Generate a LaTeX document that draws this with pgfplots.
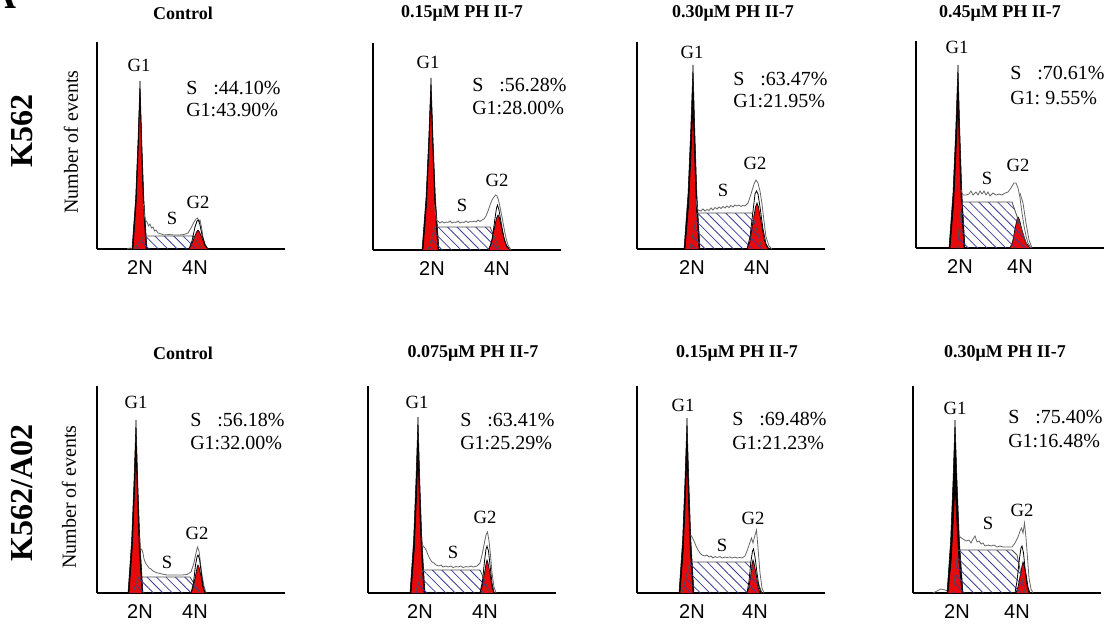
\documentclass[border=0pt]{standalone}
\usepackage{pgfplots}
\pgfplotsset{compat=1.18}
\usepackage{fontspec}
\setmainfont{Liberation Serif}
\newfontfamily\sansf{Liberation Sans}
\usetikzlibrary{patterns.meta}
\definecolor{pkred}{RGB}{232,10,10}
\definecolor{hatchblue}{RGB}{60,60,150}
\newcommand\ttl{\fontsize{13.5}{15}\selectfont\bfseries}
\newcommand\ann{\fontsize{15}{17}\selectfont}
\newcommand\lbl{\fontsize{14}{16}\selectfont}
\newcommand\tickfont{\fontsize{15}{17}\selectfont\sansf}
\def\pxu{0.75pt}
\pgfplotsset{
  panel/.style={scale only axis, width=141pt, height=155.25pt,
    xmin=0, xmax=188, ymin=0, ymax=207,
    axis lines=left, axis line style={-, line width=1.3pt},
    ytick=\empty, xticklabels={2N,4N}, major tick length=0pt,
    xticklabel style={font=\tickfont, yshift=-5pt},
    clip=false, anchor=south west, no markers},
  spike/.style={fill=black, draw=black, line width=0.4pt},
  redpk/.style={fill=pkred, draw=black, line width=0.5pt},
  hatch/.style={draw=black!70, line width=0.6pt, pattern={Lines[angle=-45,distance=5pt,line width=0.6pt]}, pattern color=hatchblue},
  env/.style={draw=black!60, line width=0.6pt},
  g2line/.style={draw=black, line width=0.6pt},
}
\begin{document}
\begin{tikzpicture}
\path[use as bounding box] (0,0) rectangle (1107*\pxu,-628*\pxu);
% ---------------- Panel 1
\begin{axis}[panel, at={(97*\pxu,-249*\pxu)}, xtick={43,98}]
\addplot[env] coordinates {(30,0) (33,1) (35,0)};
\addplot[spike] coordinates {(35,0) (38.6,50) (41,109) (43,168) (44.75,109) (46.85,50) (50,0)};
\addplot[redpk] coordinates {(36,0) (39.2,47) (41.3,102) (43,157) (44.5,102) (46.3,47) (49,0)};
\addplot[redpk] coordinates {(91,0) (94,3) (97,11) (99.5,17) (101,19) (102.5,17) (105,11) (108,3) (111,0)};
\addplot[hatch] coordinates {(37,0) (47,13) (96,13) (105,0)};
\addplot[env] coordinates {(46.5,45) (47.5,33) (48.5,29) (50,27) (51.5,23) (53,25) (54.5,21) (56,22) (57.5,18) (59,19) (61,16) (63,15.5) (67,14) (72,14.5) (77,14) (82,14) (87,14.5) (91,16) (94,21) (97,27) (99,30) (100.5,31) (102,27) (103,29) (104.5,22) (106,12) (108,5) (111,0)};
\addplot[g2line] coordinates {(92,0) (95,8) (98,22) (100,28) (101.5,29) (103,24) (105,14) (108,4) (111,0)};
\node[font=\lbl] at (axis cs:42,184) {G1};
\node[font=\lbl] at (axis cs:75,31) {S};
\node[font=\lbl] at (axis cs:101,47) {G2};
\node[font=\ann, anchor=west, inner sep=0pt] at (axis cs:89,161) {S\hspace{0.8em}:44.10\%};
\node[font=\ann, anchor=west, inner sep=0pt] at (axis cs:89,139) {G1:43.90\%};
\node[font=\ttl] at (axis cs:86,236) {Control};
\node[font=\fontsize{24}{28}\selectfont\bfseries, rotate=90] at (axis cs:-75,118) {K562};
\node[font=\ann, rotate=90] at (axis cs:-26,107) {Number of events};
\node[font=\fontsize{28}{30}\selectfont\bfseries, anchor=base east, inner sep=0pt] at (axis cs:-80,241) {A};
\end{axis}
% ---------------- Panel 2
\begin{axis}[panel, at={(373*\pxu,-250*\pxu)}, xtick={59,124}]
\addplot[spike] coordinates {(49,0) (53,52) (55.75,112) (58,172) (60,112) (62.4,52) (66,0)};
\addplot[redpk] coordinates {(50,0) (53.6,47) (56,103) (58,158) (59.75,103) (61.85,47) (65,0)};
\addplot[redpk] coordinates {(115,0) (118,6) (121,20) (123.5,32) (125,35) (126.5,32) (129,20) (132.5,6) (137,0)};
\addplot[hatch] coordinates {(55,0) (62,23) (117,23) (127,0)};
\addplot[env] coordinates {(61.5,45) (62.5,36) (63.5,30) (65,29) (67,27) (69,28.5) (71,27) (73,28) (75,27.5) (77,29) (79,27) (81,28) (83,27.5) (85,29) (87,27) (89,28) (91,27.5) (93,29) (95,27.5) (97,28.5) (99,28) (101,29) (103,28) (105,30) (107,28.5) (109,30) (111,31) (113,34) (115,39) (117,45) (119,50) (121,53) (122.5,55) (124,54) (125.5,50) (127,43) (129,33) (131,22) (133,12) (135,5) (138,0)};
\addplot[g2line] coordinates {(116,0) (119,10) (121.5,28) (123.5,42) (124.5,45) (126,40) (128,28) (131,12) (134,3) (137,0)};
\node[font=\lbl] at (axis cs:55,188) {G1};
\node[font=\lbl] at (axis cs:89,45) {S};
\node[font=\lbl] at (axis cs:124,70) {G2};
\node[font=\ann, anchor=west, inner sep=0pt] at (axis cs:99,165) {S\hspace{0.8em}:56.28\%};
\node[font=\ann, anchor=west, inner sep=0pt] at (axis cs:99,142) {G1:28.00\%};
\node[font=\ttl] at (axis cs:89,237) {0.15μM PH II-7};
\end{axis}
% ---------------- Panel 3
\begin{axis}[panel, at={(637*\pxu,-249*\pxu)}, xtick={55,120}]
\addplot[spike] coordinates {(47,0) (51,55) (53.75,120) (56,184) (57.75,120) (59.85,55) (63,0)};
\addplot[redpk] coordinates {(48,0) (51.6,44) (54,95) (56,146) (57.5,95) (59.3,44) (62,0)};
\addplot[redpk] coordinates {(110,0) (113,8) (116,28) (118.5,42) (120,46) (121.5,42) (124,28) (127.5,8) (131,0)};
\addplot[hatch] coordinates {(53,0) (60,36) (115,36) (125,0)};
\addplot[env] coordinates {(59,50) (60,42) (61,39) (64,38) (66,40) (68,38) (70,39.5) (72,38.5) (74,41) (76,39) (78,41.5) (80,40) (82,42) (84,40.5) (86,42.5) (88,41) (90,43) (92,41.5) (94,43.5) (96,42) (98,44) (100,43) (102,44) (104,42.5) (106,43.5) (108,43) (111,46) (114,55) (117,65) (119,69) (121,66) (123,58) (125,45) (127,28) (129,12) (132,3) (135,0)};
\addplot[g2line] coordinates {(110,0) (113,12) (116,38) (118,55) (119.5,58) (121,55) (123,42) (126,20) (129,5) (132,0)};
\node[font=\lbl] at (axis cs:55,197) {G1};
\node[font=\lbl] at (axis cs:86,59) {S};
\node[font=\lbl] at (axis cs:118,86) {G2};
\node[font=\ann, anchor=west, inner sep=0pt] at (axis cs:96,170) {S\hspace{0.8em}:63.47\%};
\node[font=\ann, anchor=west, inner sep=0pt] at (axis cs:96,148) {G1:21.95\%};
\node[font=\ttl] at (axis cs:96,236) {0.30μM PH II-7};
\end{axis}
% ---------------- Panel 4
\begin{axis}[panel, at={(916*\pxu,-248*\pxu)}, xtick={44,104}]
\addplot[spike] coordinates {(33,0) (37,55) (39.75,119) (42,183) (43.75,119) (45.85,55) (49,0)};
\addplot[redpk] coordinates {(34,0) (37.6,44) (40,96) (42,148) (43.5,96) (45.3,44) (48,0)};
\addplot[redpk] coordinates {(94,0) (96.5,6) (99,19) (101,29) (102,31) (103.5,28) (106,18) (109.5,6) (114,0)};
\addplot[hatch] coordinates {(41,0) (46,46) (96,46) (112,0)};
\addplot[env] coordinates {(45.3,58) (46,55) (47,53) (50,53) (53,54) (55,57) (57,53) (60,56) (62,53) (64,57) (66,54) (68,57) (70,53) (72,56) (74,52) (77,55) (80,53) (83,54) (86,53) (89,55) (92,56) (95,60) (98,65) (100,65) (102,60) (104,50) (106,35) (108,22) (110,12) (112,5) (115,0)};
\addplot[env] coordinates {(104,55) (107,45) (110,25) (113,8) (116,0)};
\node[font=\lbl] at (axis cs:41,201) {G1};
\node[font=\lbl] at (axis cs:71,70) {S};
\node[font=\lbl] at (axis cs:102,83) {G2};
\node[font=\ann, anchor=west, inner sep=0pt] at (axis cs:94,175) {S\hspace{0.8em}:70.61\%};
\node[font=\ann, anchor=west, inner sep=0pt] at (axis cs:94,150) {G1:\hspace{0.25em}9.55\%};
\node[font=\ttl] at (axis cs:84,235) {0.45μM PH II-7};
\end{axis}
% ---------------- Panel 5
\begin{axis}[panel, at={(97*\pxu,-593*\pxu)}, xtick={43,98}]
\addplot[spike] coordinates {(31,0) (34.6,52) (37,112) (39,173) (40.75,112) (42.85,52) (46,0)};
\addplot[redpk] coordinates {(32,0) (35.2,44) (37.3,95) (39,146) (40.5,95) (42.3,44) (45,0)};
\addplot[redpk] coordinates {(94,0) (96,5) (98.5,17) (100.2,26) (101,28) (102,26) (104,17) (106,5) (108,0)};
\addplot[hatch] coordinates {(36,0) (41,16) (93,16) (103,0)};
\addplot[env] coordinates {(42.8,55) (43.5,45) (45,43) (46,40) (47,34) (48.5,30) (50,28) (52,25) (54,24) (56,22) (58,21) (61,20) (65,19) (70,18) (75,18) (80,18) (85,18) (90,18.5) (94,21) (97,30) (99,40) (100.5,46) (102,42) (103.5,30) (105,18) (107,7) (109,0)};
\addplot[g2line] coordinates {(94,0) (96.5,10) (98.5,28) (100,36) (101,38) (102.5,34) (104,22) (106,8) (108,0)};
\node[font=\lbl] at (axis cs:39,191) {G1};
\node[font=\lbl] at (axis cs:70,31) {S};
\node[font=\lbl] at (axis cs:100,60) {G2};
\node[font=\ann, anchor=west, inner sep=0pt] at (axis cs:93,173) {S\hspace{0.8em}:56.18\%};
\node[font=\ann, anchor=west, inner sep=0pt] at (axis cs:93,150) {G1:32.00\%};
\node[font=\ttl] at (axis cs:86,240) {Control};
\node[font=\fontsize{24}{28}\selectfont\bfseries, rotate=90] at (axis cs:-75,100) {K562/A02};
\node[font=\ann, rotate=90] at (axis cs:-28,96) {Number of events};
\end{axis}
% ---------------- Panel 6
\begin{axis}[panel, at={(368*\pxu,-593*\pxu)}, xtick={52,117}]
\addplot[spike] coordinates {(42,0) (45.6,53) (48,114) (50,176) (51.75,114) (53.85,53) (57,0)};
\addplot[redpk] coordinates {(43,0) (46.2,42) (48.3,91) (50,140) (51.5,91) (53.3,42) (56,0)};
\addplot[redpk] coordinates {(112,0) (114,6) (116.5,20) (118.2,30) (119,33) (120,30) (122,20) (124,6) (126,0)};
\addplot[hatch] coordinates {(47,0) (55,23) (112,23) (122,0)};
\addplot[env] coordinates {(53.8,55) (54.5,48) (56,46) (57,45) (58.5,42) (60,38) (62,34) (64,31) (66,30) (68,28) (71,27) (73,28) (75,26) (78,27) (80,26) (83,27) (85,25.5) (88,26.5) (90,26) (93,27) (95,25.5) (98,26.5) (100,26) (103,27) (105,26) (109,27) (112,30) (114,38) (116,48) (118,58) (119.5,61) (121,52) (122.5,38) (124,20) (126,6) (128,0)};
\addplot[g2line] coordinates {(112,0) (114.5,12) (116.5,32) (118,44) (119,47) (120.5,42) (122,28) (124,10) (126,0)};
\node[font=\lbl] at (axis cs:49,191) {G1};
\node[font=\lbl] at (axis cs:85,41) {S};
\node[font=\lbl] at (axis cs:117,76) {G2};
\node[font=\ann, anchor=west, inner sep=0pt] at (axis cs:92,173) {S\hspace{0.8em}:63.41\%};
\node[font=\ann, anchor=west, inner sep=0pt] at (axis cs:92,150) {G1:25.29\%};
\node[font=\ttl] at (axis cs:105,240) {0.075μM PH II-7};
\end{axis}
% ---------------- Panel 7
\begin{axis}[panel, at={(637*\pxu,-593*\pxu)}, xtick={55,118}]
\addplot[spike] coordinates {(42,0) (45.6,53) (48,114) (50,175) (51.75,114) (53.85,53) (57,0)};
\addplot[redpk] coordinates {(43,0) (46.2,42) (48.3,91) (50,140) (51.5,91) (53.3,42) (56,0)};
\addplot[redpk] coordinates {(110,0) (112,6) (114,20) (115.3,30) (116,33) (117,30) (119,20) (121,6) (123,0)};
\addplot[hatch] coordinates {(45,0) (53,31) (113,31) (125,0)};
\addplot[env] coordinates {(53.8,58) (55,56) (57,52) (59,47) (61,43) (63,40) (65,38) (68,37) (70,38) (72,36) (74,37) (76,35) (78,36.5) (80,35.5) (83,36.5) (85,35) (88,36) (90,35.5) (93,36) (95,35) (98,36) (100,35) (103,35.5) (105,35) (108,37) (110,42) (112,48) (114.5,55) (116,50) (118,58) (119.5,63) (121,45) (123,20) (125,5) (127,0)};
\addplot[g2line] coordinates {(110,0) (112,12) (114,32) (115.5,42) (116.5,44) (118,36) (120,20) (122,6) (124,0)};
\node[font=\lbl] at (axis cs:46,188) {G1};
\node[font=\lbl] at (axis cs:85,48) {S};
\node[font=\lbl] at (axis cs:116,75) {G2};
\node[font=\ann, anchor=west, inner sep=0pt] at (axis cs:95,174) {S\hspace{0.8em}:69.48\%};
\node[font=\ann, anchor=west, inner sep=0pt] at (axis cs:95,150) {G1:21.23\%};
\node[font=\ttl] at (axis cs:100,240) {0.15μM PH II-7};
\end{axis}
% ---------------- Panel 8
\begin{axis}[panel, at={(913*\pxu,-593*\pxu)}, xtick={44,104}]
\addplot[env] coordinates {(20,0) (24,2) (28,4) (32,3) (35,2)};
\addplot[spike] coordinates {(34,0) (37.6,52) (40,112) (42,173) (44,112) (46.4,52) (50,0)};
\addplot[redpk] coordinates {(35,0) (38.2,33) (40.3,72) (42,110) (43.8,72) (45.9,33) (49,0)};
\addplot[redpk] coordinates {(103,0) (105,6) (107.5,19) (109.2,28) (110,31) (111,28) (113,19) (115,6) (117,0)};
\addplot[hatch] coordinates {(40,0) (45,43) (99,43) (104,38) (112,0)};
\addplot[env] coordinates {(46.4,58) (47,56) (50,54) (53,52) (56,53) (58,50) (60,54) (62,57) (64,51) (66,52) (68,49) (70,50) (72,47) (75,48) (78,47) (81,48) (84,46) (87,47) (90,46) (93,46) (96,46) (99,46) (102,50) (105,56) (107,62) (108.5,65) (110,60) (111.5,70) (113,55) (114.5,35) (116,15) (118,4) (120,0)};
\addplot[g2line] coordinates {(102,0) (104,12) (106.5,35) (108,45) (109,47) (110.5,40) (112,25) (114,8) (116,0)};
\node[font=\lbl] at (axis cs:42,185) {G1};
\node[font=\lbl] at (axis cs:75,70) {S};
\node[font=\lbl] at (axis cs:109,83) {G2};
\node[font=\ann, anchor=west, inner sep=0pt] at (axis cs:95,176) {S\hspace{0.8em}:75.40\%};
\node[font=\ann, anchor=west, inner sep=0pt] at (axis cs:95,152) {G1:16.48\%};
\node[font=\ttl] at (axis cs:92,240) {0.30μM PH II-7};
\end{axis}
\end{tikzpicture}
\end{document}
